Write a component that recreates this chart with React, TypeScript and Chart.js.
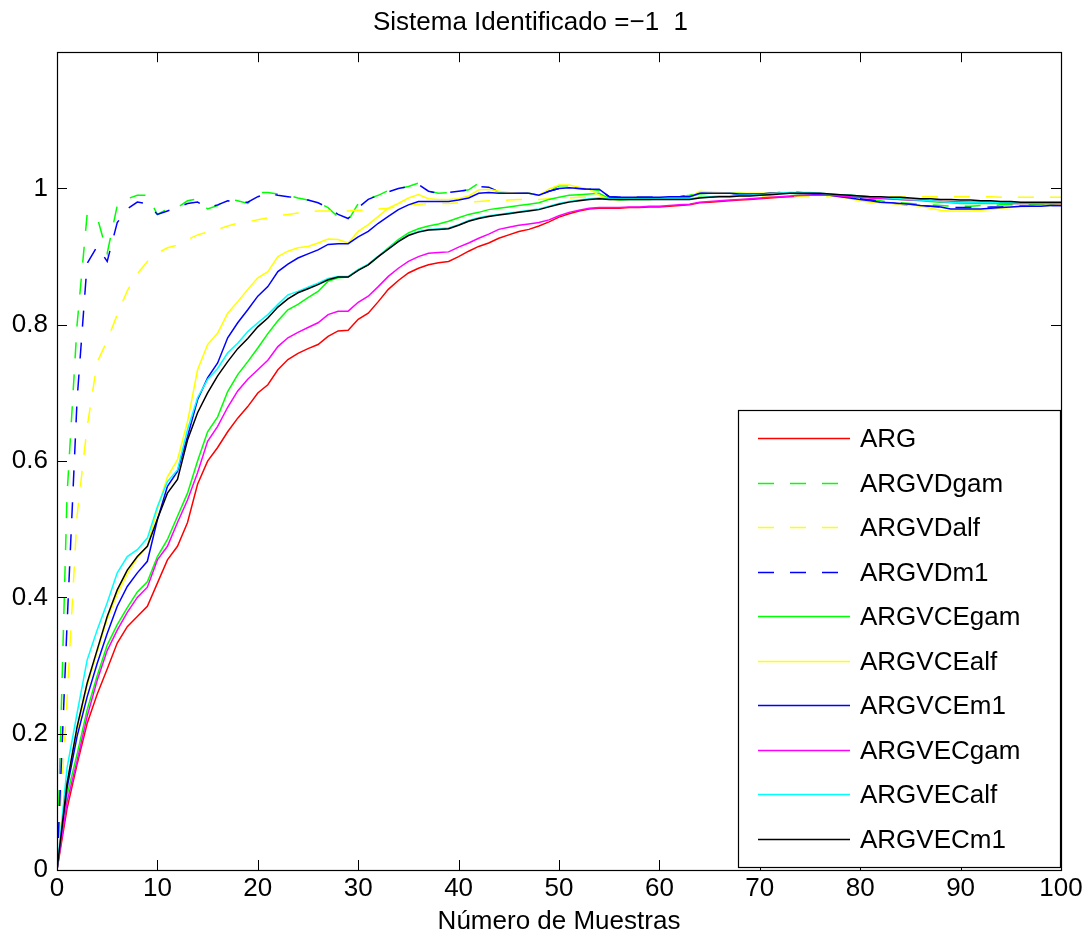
import React, { useEffect, useRef } from "react";
import { Chart, registerables } from "chart.js";
Chart.register(...registerables);

const titleText = "Sistema Identificado =\u22121  1";
const xLabel = "Número de Muestras";

const samples = Array.from({ length: 101 }, (_, i) => i);
const xTicks = [0, 10, 20, 30, 40, 50, 60, 70, 80, 90, 100];
const yTicks = [0, 0.2, 0.4, 0.6, 0.8, 1];

const seriesNames = ["ARG", "ARGVDgam", "ARGVDalf", "ARGVDm1", "ARGVCEgam", "ARGVCEalf", "ARGVCEm1", "ARGVECgam", "ARGVECalf", "ARGVECm1"];
const seriesColors = ["#ff0000", "#00ff00", "#ffff00", "#0000ff", "#00ff00", "#ffff00", "#0000ff", "#ff00ff", "#00ffff", "#000000"];
const seriesDashed = [false, true, true, true, false, false, false, false, false, false];

const ARG = [
  0, 0.09, 0.155, 0.215, 0.258, 0.295, 0.333, 0.357, 0.372, 0.387, 0.421,
  0.455, 0.475, 0.51, 0.566, 0.6, 0.62, 0.643, 0.663, 0.68, 0.7,
  0.712, 0.734, 0.749, 0.758, 0.765, 0.771, 0.783, 0.791, 0.792, 0.808,
  0.817, 0.834, 0.852, 0.865, 0.876, 0.883, 0.888, 0.891, 0.893, 0.9,
  0.908, 0.915, 0.92, 0.927, 0.932, 0.937, 0.94, 0.945, 0.951, 0.958,
  0.963, 0.967, 0.97, 0.971, 0.971, 0.971, 0.972, 0.972, 0.973, 0.973,
  0.974, 0.975, 0.976, 0.979, 0.98, 0.981, 0.982, 0.983, 0.984, 0.985,
  0.986, 0.987, 0.988, 0.989, 0.99, 0.99, 0.99, 0.989, 0.988, 0.988,
  0.987, 0.986, 0.985, 0.985, 0.984, 0.983, 0.982, 0.981, 0.981, 0.98,
  0.98, 0.98, 0.98, 0.979, 0.979, 0.979, 0.979, 0.979, 0.979, 0.979,
];

const ARGVDgam = [
  0, 0.55, 0.8, 0.962, 0.958, 0.905, 0.975, 0.985, 0.99, 0.99, 0.962,
  0.97, 0.972, 0.982, 0.985, 0.97, 0.975, 0.985, 0.982, 0.978, 0.994,
  0.994, 0.992, 0.99, 0.986, 0.983, 0.979, 0.972, 0.958, 0.953, 0.978,
  0.985, 0.99, 0.997, 1.0, 1.003, 1.008, 0.996, 0.993, 0.994, 0.996,
  0.998, 1.008, 1.002, 0.995, 0.993, 0.993, 0.993, 0.99, 0.997, 1.004,
  1.004, 1.0, 0.999, 0.997, 0.988, 0.986, 0.986, 0.986, 0.986, 0.986,
  0.987, 0.988, 0.99, 0.993, 0.994, 0.993, 0.993, 0.992, 0.992, 0.992,
  0.993, 0.993, 0.994, 0.993, 0.992, 0.992, 0.991, 0.99, 0.988, 0.986,
  0.984, 0.982, 0.98, 0.979, 0.978, 0.977, 0.976, 0.975, 0.974, 0.974,
  0.974, 0.975, 0.975, 0.976, 0.976, 0.976, 0.976, 0.977, 0.977, 0.977,
];

const ARGVDalf = [
  0, 0.25, 0.52, 0.65, 0.745, 0.777, 0.815, 0.85, 0.875, 0.893, 0.905,
  0.913, 0.917, 0.925, 0.932, 0.936, 0.94, 0.945, 0.949, 0.951, 0.954,
  0.957, 0.96, 0.962, 0.964, 0.966, 0.967, 0.967, 0.967, 0.967, 0.968,
  0.968, 0.97, 0.971, 0.974, 0.976, 0.977, 0.978, 0.978, 0.978, 0.979,
  0.98, 0.981, 0.982, 0.982, 0.983, 0.984, 0.984, 0.984, 0.985, 0.985,
  0.986, 0.987, 0.987, 0.987, 0.987, 0.987, 0.987, 0.987, 0.987, 0.987,
  0.988, 0.988, 0.988, 0.988, 0.988, 0.988, 0.988, 0.989, 0.989, 0.989,
  0.989, 0.989, 0.989, 0.989, 0.989, 0.989, 0.989, 0.989, 0.989, 0.989,
  0.988, 0.988, 0.988, 0.988, 0.988, 0.988, 0.988, 0.988, 0.988, 0.988,
  0.988, 0.988, 0.988, 0.987, 0.987, 0.987, 0.987, 0.987, 0.987, 0.987,
];

const ARGVDm1 = [
  0, 0.36, 0.69, 0.89, 0.915, 0.893, 0.95, 0.97, 0.98, 0.978, 0.962,
  0.967, 0.972, 0.978, 0.98, 0.972, 0.976, 0.982, 0.98, 0.98, 0.988,
  0.993, 0.99, 0.988, 0.986, 0.983, 0.979, 0.972, 0.962, 0.956, 0.972,
  0.984, 0.99, 0.995, 1.0, 1.003, 1.006, 0.996, 0.993, 0.994, 0.996,
  0.998, 1.003, 1.002, 0.995, 0.993, 0.993, 0.993, 0.99, 0.996, 1.0,
  1.001, 1.0, 0.999, 0.998, 0.988, 0.987, 0.987, 0.987, 0.987, 0.987,
  0.987, 0.988, 0.99, 0.993, 0.993, 0.993, 0.993, 0.992, 0.992, 0.992,
  0.993, 0.994, 0.995, 0.994, 0.993, 0.992, 0.991, 0.989, 0.987, 0.985,
  0.983, 0.981, 0.979, 0.977, 0.976, 0.975, 0.974, 0.973, 0.972, 0.972,
  0.972, 0.972, 0.973, 0.973, 0.974, 0.974, 0.974, 0.975, 0.975, 0.975,
];

const ARGVCEgam = [
  0, 0.11, 0.17, 0.235, 0.285, 0.33, 0.36, 0.385, 0.408, 0.423, 0.46,
  0.485, 0.519, 0.553, 0.6, 0.643, 0.665, 0.702, 0.727, 0.746, 0.766,
  0.787, 0.806, 0.822, 0.83, 0.84, 0.849, 0.864, 0.869, 0.87, 0.881,
  0.888, 0.9, 0.913, 0.925, 0.935, 0.941, 0.945, 0.948, 0.952, 0.957,
  0.962, 0.965, 0.969, 0.971, 0.973, 0.975, 0.977, 0.979, 0.984, 0.987,
  0.99, 0.991, 0.992, 0.993, 0.985, 0.983, 0.984, 0.984, 0.984, 0.985,
  0.986, 0.987, 0.988, 0.992, 0.993, 0.993, 0.993, 0.993, 0.992, 0.992,
  0.993, 0.993, 0.993, 0.992, 0.992, 0.992, 0.991, 0.991, 0.99, 0.989,
  0.988, 0.987, 0.985, 0.984, 0.983, 0.982, 0.981, 0.98, 0.979, 0.978,
  0.978, 0.978, 0.978, 0.978, 0.978, 0.978, 0.978, 0.978, 0.977, 0.977,
];

const ARGVCEalf = [
  0, 0.125, 0.205, 0.27, 0.32, 0.368, 0.405, 0.435, 0.458, 0.476, 0.53,
  0.577, 0.602, 0.658, 0.734, 0.771, 0.788, 0.817, 0.834, 0.852, 0.869,
  0.878, 0.9, 0.908, 0.913, 0.915, 0.92, 0.926, 0.925, 0.92, 0.937,
  0.947, 0.959, 0.971, 0.978, 0.986, 0.991, 0.985, 0.984, 0.984, 0.985,
  0.989, 0.998, 0.999, 0.996, 0.994, 0.993, 0.993, 0.99, 0.999, 1.005,
  1.005, 1.002, 0.999, 0.99, 0.984, 0.984, 0.985, 0.985, 0.985, 0.986,
  0.986, 0.986, 0.987, 0.996, 0.995, 0.994, 0.993, 0.993, 0.993, 0.993,
  0.993, 0.994, 0.994, 0.993, 0.992, 0.991, 0.99, 0.988, 0.985, 0.982,
  0.98, 0.979, 0.978, 0.977, 0.976, 0.974, 0.971, 0.968, 0.967, 0.967,
  0.967, 0.968, 0.969, 0.971, 0.972, 0.973, 0.974, 0.975, 0.975, 0.976,
];

const ARGVCEm1 = [
  0, 0.12, 0.196, 0.254, 0.303, 0.347, 0.387, 0.416, 0.436, 0.453, 0.514,
  0.563, 0.585, 0.636, 0.69, 0.722, 0.744, 0.781, 0.803, 0.822, 0.842,
  0.856, 0.878, 0.889, 0.898, 0.904, 0.91, 0.918, 0.919, 0.919, 0.929,
  0.937, 0.949, 0.959, 0.969, 0.976, 0.981, 0.981, 0.981, 0.981, 0.983,
  0.986, 0.993, 0.994, 0.993, 0.993, 0.993, 0.993, 0.99, 0.996, 1.0,
  1.001, 1.0, 0.999, 0.999, 0.988, 0.987, 0.987, 0.987, 0.987, 0.987,
  0.988, 0.988, 0.988, 0.993, 0.993, 0.993, 0.993, 0.992, 0.992, 0.992,
  0.993, 0.993, 0.993, 0.993, 0.992, 0.991, 0.99, 0.988, 0.986, 0.984,
  0.982, 0.98, 0.979, 0.978, 0.977, 0.975, 0.974, 0.973, 0.97, 0.97,
  0.97, 0.97, 0.971, 0.972, 0.973, 0.974, 0.974, 0.974, 0.975, 0.975,
];

const ARGVECgam = [
  0, 0.1, 0.16, 0.225, 0.278, 0.322, 0.352, 0.378, 0.4, 0.415, 0.455,
  0.475, 0.51, 0.543, 0.583, 0.629, 0.651, 0.679, 0.703, 0.72, 0.734,
  0.748, 0.768, 0.781, 0.789, 0.796, 0.803, 0.815, 0.82, 0.82, 0.833,
  0.842, 0.856, 0.871, 0.883, 0.893, 0.9, 0.905, 0.906, 0.907, 0.914,
  0.92, 0.927, 0.933, 0.94, 0.943, 0.946, 0.948, 0.95, 0.954, 0.96,
  0.965, 0.968, 0.971, 0.972, 0.972, 0.972, 0.973, 0.973, 0.974, 0.974,
  0.975, 0.976, 0.977, 0.98, 0.981, 0.982, 0.983, 0.984, 0.985, 0.986,
  0.987, 0.988, 0.989, 0.99, 0.99, 0.99, 0.99, 0.989, 0.988, 0.987,
  0.986, 0.985, 0.985, 0.984, 0.983, 0.983, 0.982, 0.981, 0.98, 0.98,
  0.979, 0.979, 0.979, 0.979, 0.978, 0.978, 0.978, 0.978, 0.978, 0.978,
];

const ARGVECalf = [
  0, 0.15, 0.23, 0.308, 0.352, 0.392, 0.436, 0.46, 0.47, 0.487, 0.533,
  0.57, 0.587, 0.646, 0.693, 0.72, 0.736, 0.759, 0.773, 0.79, 0.803,
  0.815, 0.83, 0.844, 0.849, 0.855, 0.861, 0.868, 0.871, 0.871, 0.881,
  0.889, 0.901, 0.912, 0.923, 0.932, 0.937, 0.94, 0.941, 0.942, 0.947,
  0.953, 0.957, 0.96, 0.962, 0.964, 0.966, 0.968, 0.97, 0.974, 0.978,
  0.981, 0.983, 0.985, 0.986, 0.985, 0.985, 0.985, 0.985, 0.985, 0.985,
  0.985, 0.985, 0.985, 0.987, 0.988, 0.989, 0.989, 0.99, 0.99, 0.991,
  0.992, 0.993, 0.994, 0.994, 0.994, 0.993, 0.992, 0.991, 0.99, 0.989,
  0.988, 0.987, 0.986, 0.985, 0.984, 0.983, 0.982, 0.981, 0.98, 0.979,
  0.979, 0.979, 0.979, 0.979, 0.979, 0.979, 0.979, 0.979, 0.979, 0.979,
];

const ARGVECm1 = [
  0, 0.127, 0.21, 0.274, 0.323, 0.372, 0.411, 0.44, 0.46, 0.475, 0.515,
  0.553, 0.573, 0.631, 0.671, 0.7, 0.725, 0.746, 0.765, 0.78, 0.797,
  0.81, 0.826, 0.838, 0.847, 0.853, 0.859, 0.866, 0.87, 0.87, 0.88,
  0.888, 0.9, 0.911, 0.922, 0.931, 0.936, 0.939, 0.94, 0.941, 0.946,
  0.952, 0.956, 0.959, 0.961, 0.963, 0.965, 0.967, 0.969, 0.973, 0.977,
  0.98, 0.982, 0.984, 0.985, 0.984, 0.984, 0.984, 0.984, 0.984, 0.984,
  0.984, 0.984, 0.984, 0.986, 0.987, 0.988, 0.988, 0.989, 0.989, 0.99,
  0.991, 0.992, 0.993, 0.993, 0.993, 0.993, 0.992, 0.991, 0.99, 0.989,
  0.988, 0.988, 0.987, 0.987, 0.986, 0.985, 0.985, 0.984, 0.984, 0.983,
  0.983, 0.982, 0.982, 0.981, 0.981, 0.98, 0.98, 0.98, 0.98, 0.98,
];

const seriesValues = [ARG, ARGVDgam, ARGVDalf, ARGVDm1, ARGVCEgam, ARGVCEalf, ARGVCEm1, ARGVECgam, ARGVECalf, ARGVECm1];

const FONT = "Liberation Sans, Arial, Helvetica, sans-serif";
const DASH = [16, 16];

const framePlugin = {
  id: "matlabFrame",
  afterDatasetsDraw(chart: any) {
    const { ctx, chartArea: a, scales } = chart;
    const xs = scales.x;
    const ys = scales.y;
    ctx.save();
    ctx.strokeStyle = "#000";
    ctx.lineWidth = 1;
    ctx.setLineDash([]);
    ctx.beginPath();
    for (const t of xs.ticks) {
      const px = Math.round(xs.getPixelForValue(t.value)) + 0.5;
      ctx.moveTo(px, a.bottom);
      ctx.lineTo(px, a.bottom - 10);
      ctx.moveTo(px, a.top);
      ctx.lineTo(px, a.top + 10);
    }
    for (const t of ys.ticks) {
      const py = Math.round(ys.getPixelForValue(t.value)) + 0.5;
      ctx.moveTo(a.left, py);
      ctx.lineTo(a.left + 10, py);
      ctx.moveTo(a.right, py);
      ctx.lineTo(a.right - 10, py);
    }
    ctx.stroke();
    ctx.lineWidth = 1.2;
    ctx.strokeRect(Math.round(a.left) + 0.5, Math.round(a.top) + 0.5, Math.round(a.right - a.left), Math.round(a.bottom - a.top));

    // legend box
    const bx = 738, by = 410, bw = 322, bh = 457;
    ctx.fillStyle = "#fff";
    ctx.fillRect(bx, by, bw, bh);
    ctx.lineWidth = 1.2;
    ctx.strokeStyle = "#000";
    ctx.strokeRect(bx + 0.5, by + 0.5, bw, bh);
    ctx.font = `26px ${FONT}`;
    ctx.textBaseline = "middle";
    ctx.textAlign = "left";
    chart.data.datasets.forEach((ds: any, i: number) => {
      const y = Math.round(438 + i * 44.56) + 0.5;
      ctx.strokeStyle = ds.borderColor;
      ctx.lineWidth = 1.5;
      ctx.setLineDash(ds.borderDash || []);
      ctx.beginPath();
      ctx.moveTo(758, y);
      ctx.lineTo(850, y);
      ctx.stroke();
      ctx.setLineDash([]);
      ctx.fillStyle = "#000";
      ctx.fillText(ds.label, 860, y + 1);
    });
    ctx.restore();
  },
};

export default function App() {
  const ref = useRef<HTMLCanvasElement | null>(null);
  useEffect(() => {
    if (!ref.current) return;
    const datasets = seriesNames.map((name, i) => ({
      label: name,
      data: seriesValues[i].map((v, k) => ({ x: samples[k], y: v })),
      borderColor: seriesColors[i],
      backgroundColor: seriesColors[i],
      borderWidth: 1.5,
      borderDash: seriesDashed[i] ? DASH : [],
      pointRadius: 0,
      tension: 0,
      fill: false,
      order: seriesNames.length - i,
    }));
    const chart = new Chart(ref.current, {
      type: "line",
      data: { datasets },
      options: {
        responsive: false,
        animation: false,
        events: [],
        layout: { padding: { left: 0, right: 30, top: 0, bottom: 0 } },
        plugins: {
          legend: { display: false },
          tooltip: { enabled: false },
          title: {
            display: true,
            text: titleText,
            color: "#000",
            font: { family: FONT, size: 26, weight: "normal" },
            padding: { top: 7, bottom: 14 },
          },
        },
        scales: {
          x: {
            type: "linear",
            min: 0,
            max: 100,
            afterBuildTicks: (s: any) => {
              s.ticks = xTicks.map((v) => ({ value: v }));
            },
            afterFit: (s: any) => {
              s.height = 71;
            },
            grid: { display: false, drawTicks: false },
            border: { display: false },
            ticks: {
              color: "#000",
              font: { family: FONT, size: 26 },
              padding: 3,
              maxRotation: 0,
              autoSkip: false,
            },
            title: {
              display: true,
              text: xLabel,
              color: "#000",
              font: { family: FONT, size: 26 },
              padding: { top: 0, bottom: 4 },
            },
          },
          y: {
            type: "linear",
            min: 0,
            max: 1.2,
            afterBuildTicks: (s: any) => {
              s.ticks = yTicks.map((v) => ({ value: v }));
            },
            afterFit: (s: any) => {
              s.width = 57;
            },
            grid: { display: false, drawTicks: false },
            border: { display: false },
            ticks: {
              color: "#000",
              font: { family: FONT, size: 26 },
              padding: 9,
              callback: (v: any) => String(Number(Number(v).toFixed(1))),
            },
          },
        },
      },
      plugins: [framePlugin],
    });
    return () => chart.destroy();
  }, []);
  return (
    <div style={{ position: "absolute", left: 0, top: 0, width: 1091, height: 941, background: "#fff" }}>
      <canvas ref={ref} width={1091} height={941} style={{ display: "block" }} />
    </div>
  );
}
